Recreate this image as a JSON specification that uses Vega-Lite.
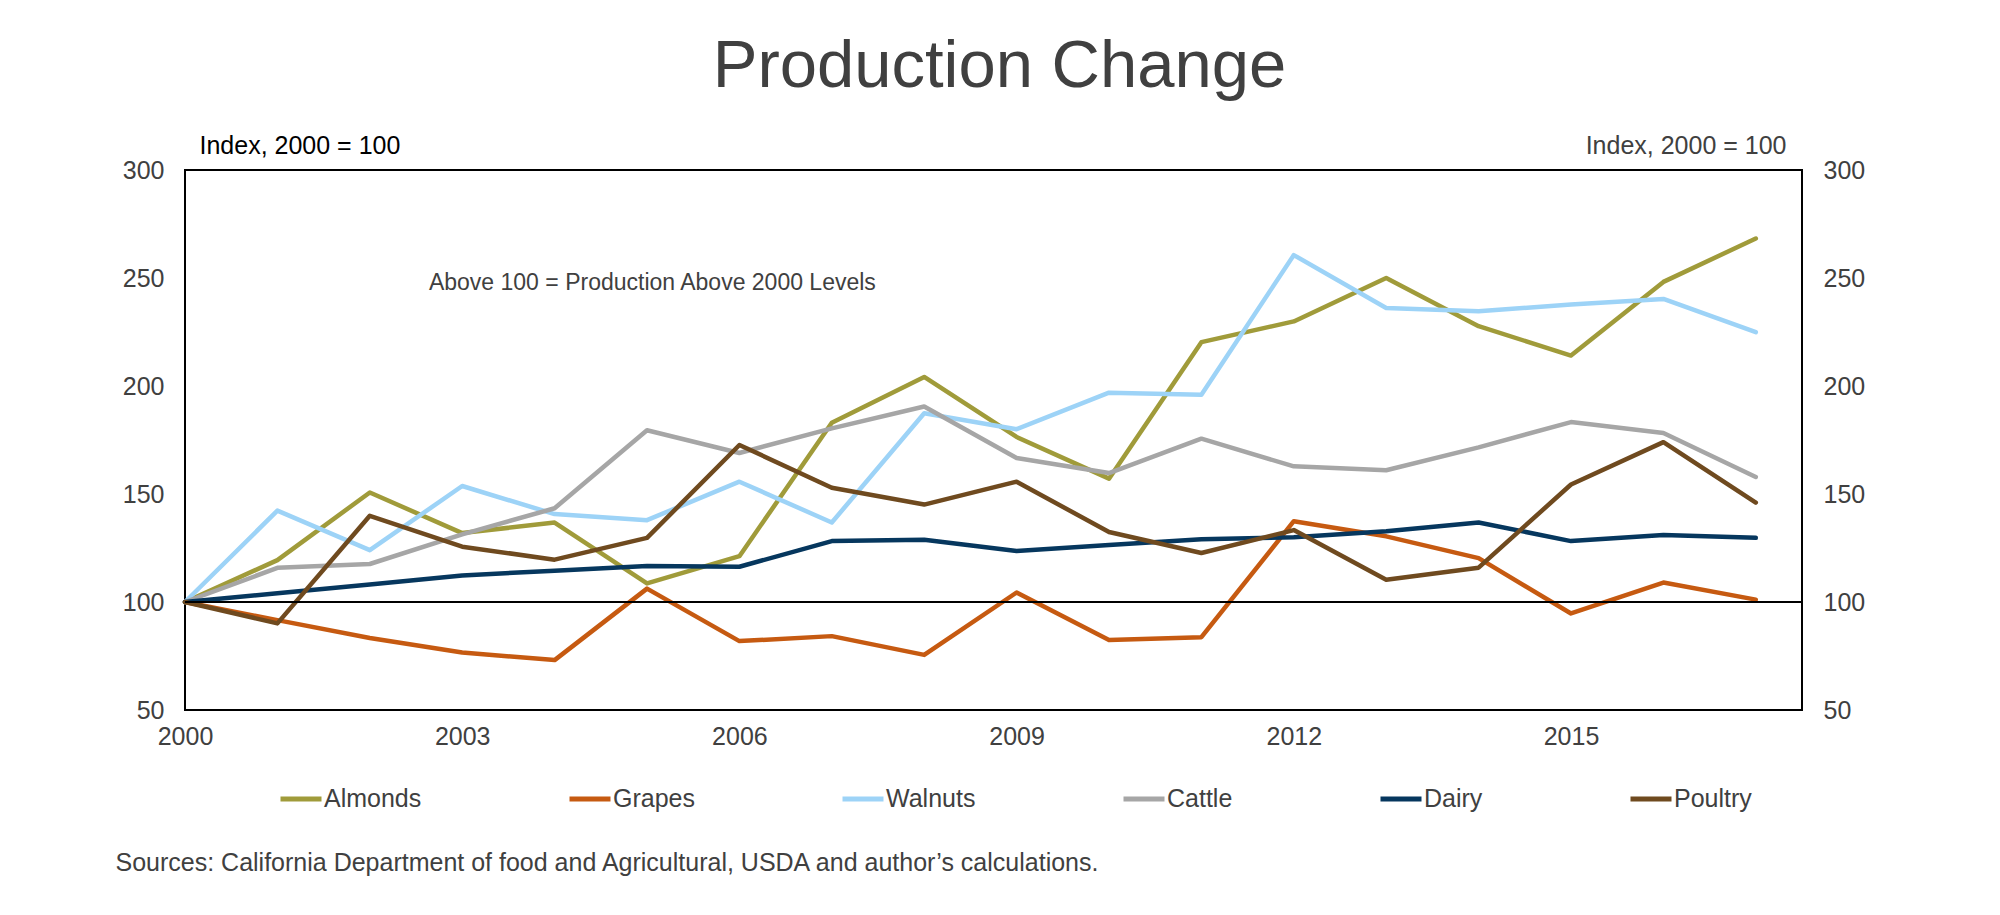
{
  "$schema": "https://vega.github.io/schema/vega-lite/v6.json",
  "width": 1617,
  "height": 540,
  "autosize": {"type": "none"},
  "padding": {"left": 185, "top": 170, "right": 198, "bottom": 205},
  "background": "white",
  "title": {"text": "Production Change", "fontSize": 67, "font": "Liberation Sans", "fontWeight": "normal", "color": "#404040", "anchor": "middle", "frame": "group", "offset": 32, "dx": 6},
  "datasets": {
    "production": [
      {"Year": 2000, "Series": "Almonds", "Index": 100},
      {"Year": 2001, "Series": "Almonds", "Index": 119.4},
      {"Year": 2002, "Series": "Almonds", "Index": 150.7},
      {"Year": 2003, "Series": "Almonds", "Index": 131.9},
      {"Year": 2004, "Series": "Almonds", "Index": 136.8},
      {"Year": 2005, "Series": "Almonds", "Index": 108.6},
      {"Year": 2006, "Series": "Almonds", "Index": 121.2},
      {"Year": 2007, "Series": "Almonds", "Index": 183.0},
      {"Year": 2008, "Series": "Almonds", "Index": 204.2},
      {"Year": 2009, "Series": "Almonds", "Index": 176.4},
      {"Year": 2010, "Series": "Almonds", "Index": 157.1},
      {"Year": 2011, "Series": "Almonds", "Index": 220.3},
      {"Year": 2012, "Series": "Almonds", "Index": 229.9},
      {"Year": 2013, "Series": "Almonds", "Index": 250.0},
      {"Year": 2014, "Series": "Almonds", "Index": 227.7},
      {"Year": 2015, "Series": "Almonds", "Index": 214.1},
      {"Year": 2016, "Series": "Almonds", "Index": 248.2},
      {"Year": 2017, "Series": "Almonds", "Index": 268.3},
      {"Year": 2000, "Series": "Grapes", "Index": 100},
      {"Year": 2001, "Series": "Grapes", "Index": 91.6},
      {"Year": 2002, "Series": "Grapes", "Index": 83.3},
      {"Year": 2003, "Series": "Grapes", "Index": 76.6},
      {"Year": 2004, "Series": "Grapes", "Index": 73.1},
      {"Year": 2005, "Series": "Grapes", "Index": 106.2},
      {"Year": 2006, "Series": "Grapes", "Index": 81.9},
      {"Year": 2007, "Series": "Grapes", "Index": 84.2},
      {"Year": 2008, "Series": "Grapes", "Index": 75.5},
      {"Year": 2009, "Series": "Grapes", "Index": 104.4},
      {"Year": 2010, "Series": "Grapes", "Index": 82.4},
      {"Year": 2011, "Series": "Grapes", "Index": 83.7},
      {"Year": 2012, "Series": "Grapes", "Index": 137.4},
      {"Year": 2013, "Series": "Grapes", "Index": 130.4},
      {"Year": 2014, "Series": "Grapes", "Index": 120.3},
      {"Year": 2015, "Series": "Grapes", "Index": 94.7},
      {"Year": 2016, "Series": "Grapes", "Index": 109.0},
      {"Year": 2017, "Series": "Grapes", "Index": 101.1},
      {"Year": 2000, "Series": "Walnuts", "Index": 100},
      {"Year": 2001, "Series": "Walnuts", "Index": 142.3},
      {"Year": 2002, "Series": "Walnuts", "Index": 124.0},
      {"Year": 2003, "Series": "Walnuts", "Index": 153.7},
      {"Year": 2004, "Series": "Walnuts", "Index": 140.7},
      {"Year": 2005, "Series": "Walnuts", "Index": 137.9},
      {"Year": 2006, "Series": "Walnuts", "Index": 155.7},
      {"Year": 2007, "Series": "Walnuts", "Index": 136.8},
      {"Year": 2008, "Series": "Walnuts", "Index": 187.4},
      {"Year": 2009, "Series": "Walnuts", "Index": 180.0},
      {"Year": 2010, "Series": "Walnuts", "Index": 196.9},
      {"Year": 2011, "Series": "Walnuts", "Index": 196.0},
      {"Year": 2012, "Series": "Walnuts", "Index": 260.6},
      {"Year": 2013, "Series": "Walnuts", "Index": 236.1},
      {"Year": 2014, "Series": "Walnuts", "Index": 234.6},
      {"Year": 2015, "Series": "Walnuts", "Index": 237.7},
      {"Year": 2016, "Series": "Walnuts", "Index": 240.3},
      {"Year": 2017, "Series": "Walnuts", "Index": 224.9},
      {"Year": 2000, "Series": "Cattle", "Index": 100},
      {"Year": 2001, "Series": "Cattle", "Index": 115.8},
      {"Year": 2002, "Series": "Cattle", "Index": 117.6},
      {"Year": 2003, "Series": "Cattle", "Index": 131.3},
      {"Year": 2004, "Series": "Cattle", "Index": 143.4},
      {"Year": 2005, "Series": "Cattle", "Index": 179.5},
      {"Year": 2006, "Series": "Cattle", "Index": 169.0},
      {"Year": 2007, "Series": "Cattle", "Index": 180.4},
      {"Year": 2008, "Series": "Cattle", "Index": 190.5},
      {"Year": 2009, "Series": "Cattle", "Index": 166.7},
      {"Year": 2010, "Series": "Cattle", "Index": 159.7},
      {"Year": 2011, "Series": "Cattle", "Index": 175.6},
      {"Year": 2012, "Series": "Cattle", "Index": 162.8},
      {"Year": 2013, "Series": "Cattle", "Index": 161.0},
      {"Year": 2014, "Series": "Cattle", "Index": 171.6},
      {"Year": 2015, "Series": "Cattle", "Index": 183.3},
      {"Year": 2016, "Series": "Cattle", "Index": 178.2},
      {"Year": 2017, "Series": "Cattle", "Index": 157.9},
      {"Year": 2000, "Series": "Dairy", "Index": 100},
      {"Year": 2001, "Series": "Dairy", "Index": 104.0},
      {"Year": 2002, "Series": "Dairy", "Index": 108.1},
      {"Year": 2003, "Series": "Dairy", "Index": 112.3},
      {"Year": 2004, "Series": "Dairy", "Index": 114.5},
      {"Year": 2005, "Series": "Dairy", "Index": 116.7},
      {"Year": 2006, "Series": "Dairy", "Index": 116.3},
      {"Year": 2007, "Series": "Dairy", "Index": 128.2},
      {"Year": 2008, "Series": "Dairy", "Index": 128.8},
      {"Year": 2009, "Series": "Dairy", "Index": 123.6},
      {"Year": 2010, "Series": "Dairy", "Index": 126.4},
      {"Year": 2011, "Series": "Dairy", "Index": 129.1},
      {"Year": 2012, "Series": "Dairy", "Index": 130.0},
      {"Year": 2013, "Series": "Dairy", "Index": 132.8},
      {"Year": 2014, "Series": "Dairy", "Index": 136.8},
      {"Year": 2015, "Series": "Dairy", "Index": 128.2},
      {"Year": 2016, "Series": "Dairy", "Index": 131.0},
      {"Year": 2017, "Series": "Dairy", "Index": 129.7},
      {"Year": 2000, "Series": "Poultry", "Index": 100},
      {"Year": 2001, "Series": "Poultry", "Index": 90.1},
      {"Year": 2002, "Series": "Poultry", "Index": 139.9},
      {"Year": 2003, "Series": "Poultry", "Index": 125.6},
      {"Year": 2004, "Series": "Poultry", "Index": 119.6},
      {"Year": 2005, "Series": "Poultry", "Index": 129.7},
      {"Year": 2006, "Series": "Poultry", "Index": 172.7},
      {"Year": 2007, "Series": "Poultry", "Index": 152.9},
      {"Year": 2008, "Series": "Poultry", "Index": 145.1},
      {"Year": 2009, "Series": "Poultry", "Index": 155.7},
      {"Year": 2010, "Series": "Poultry", "Index": 132.4},
      {"Year": 2011, "Series": "Poultry", "Index": 122.7},
      {"Year": 2012, "Series": "Poultry", "Index": 133.3},
      {"Year": 2013, "Series": "Poultry", "Index": 110.3},
      {"Year": 2014, "Series": "Poultry", "Index": 115.9},
      {"Year": 2015, "Series": "Poultry", "Index": 154.4},
      {"Year": 2016, "Series": "Poultry", "Index": 174.0},
      {"Year": 2017, "Series": "Poultry", "Index": 146.0}
    ]
  },
  "layer": [
    {
      "data": {"name": "production"},
      "mark": {"type": "line", "strokeWidth": 4.5, "strokeCap": "round", "strokeJoin": "round"},
      "encoding": {
        "x": {
          "field": "Year", "type": "quantitative",
          "scale": {"domain": [2000, 2017.5], "nice": false, "zero": false},
          "axis": {
            "orient": "bottom",
            "values": [2000, 2003, 2006, 2009, 2012, 2015], "format": "d",
            "title": "Sources: California Department of food and Agricultural, USDA and author’s calculations.",
            "titleX": -70, "titleY": 152, "titleAlign": "left", "titleBaseline": "middle",
            "titleFontSize": 25, "titleFontWeight": "normal", "titleColor": "#404040",
            "labelFontSize": 25, "labelColor": "#404040", "labelPadding": 14,
            "ticks": false, "domain": false, "grid": false, "labelFlush": false
          }
        },
        "y": {
          "field": "Index", "type": "quantitative",
          "scale": {"domain": [50, 300], "nice": false, "zero": false},
          "axis": {
            "orient": "left", "values": [50, 100, 150, 200, 250, 300],
            "title": "Index, 2000 = 100", "titleAngle": 0, "titleX": 14, "titleY": -25,
            "titleAlign": "left", "titleBaseline": "middle", "titleColor": "#000000",
            "titleFontSize": 25, "titleFontWeight": "normal",
            "labelFontSize": 25, "labelColor": "#404040", "labelPadding": 21,
            "ticks": false, "domain": false, "grid": false
          }
        },
        "color": {
          "field": "Series", "type": "nominal",
          "scale": {
            "domain": ["Almonds", "Grapes", "Walnuts", "Cattle", "Dairy", "Poultry"],
            "range": ["#A09B3A", "#C65A11", "#9DD3F7", "#A6A6A6", "#06375E", "#6F4A1F"]
          },
          "legend": {
            "orient": "none", "legendX": 93, "legendY": 606, "direction": "horizontal",
            "title": null, "symbolType": "stroke", "symbolSize": 1681, "symbolStrokeWidth": 5,
            "labelFontSize": 25, "labelColor": "#404040", "labelOffset": 0,
            "columnPadding": 137, "padding": 0, "labelFont": "Liberation Sans"
          }
        }
      }
    },
    {
      "data": {"values": [{}]},
      "mark": {"type": "rule", "color": "#000000", "strokeWidth": 2},
      "encoding": {
        "y": {
          "datum": 100, "type": "quantitative",
          "scale": {"domain": [50, 300], "nice": false, "zero": false},
          "axis": {
            "orient": "right", "values": [50, 100, 150, 200, 250, 300],
            "title": "Index, 2000 = 100", "titleAngle": 0, "titleX": -16, "titleY": -25,
            "titleAlign": "right", "titleBaseline": "middle", "titleColor": "#404040",
            "titleFontSize": 25, "titleFontWeight": "normal",
            "labelFontSize": 25, "labelColor": "#404040", "labelPadding": 21,
            "ticks": false, "domain": false, "grid": false
          }
        }
      }
    },
    {
      "data": {"values": [{}]},
      "mark": {"type": "text", "text": "Above 100 = Production Above 2000 Levels", "align": "left", "baseline": "middle", "fontSize": 23, "color": "#404040", "font": "Liberation Sans"},
      "encoding": {
        "x": {"datum": 2002.64, "type": "quantitative", "scale": {"domain": [2000, 2017.5], "nice": false, "zero": false}},
        "y": {"datum": 247.5, "type": "quantitative", "scale": {"domain": [50, 300], "nice": false, "zero": false}, "axis": null}
      }
    }
  ],
  "resolve": {"scale": {"x": "shared", "y": "shared"}, "axis": {"x": "shared", "y": "independent"}},
  "config": {
    "font": "Liberation Sans",
    "view": {"stroke": "#000000", "strokeWidth": 2},
    "axis": {"labelFont": "Liberation Sans", "titleFont": "Liberation Sans"}
  }
}
